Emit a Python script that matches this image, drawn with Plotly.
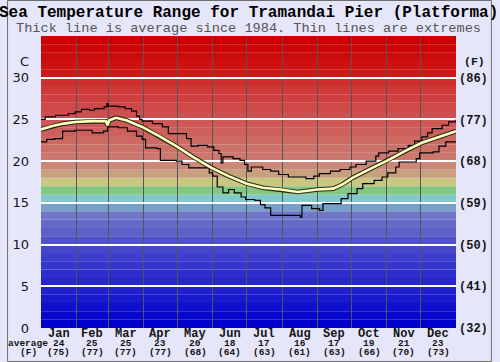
import plotly.graph_objects as go

# ---------------- data ----------------
months = ["Jan", "Feb", "Mar", "Apr", "May", "Jun", "Jul", "Aug", "Sep", "Oct", "Nov", "Dec"]
month_days = [31, 28, 31, 30, 31, 30, 31, 31, 30, 31, 30, 31]
avg_c_labels = ["24", "25", "25", "23", "20", "18", "17", "16", "17", "19", "21", "23"]
avg_f_labels = ["(75)", "(77)", "(77)", "(77)", "(68)", "(64)", "(63)", "(61)", "(63)", "(66)", "(70)", "(73)"]

avg_day = [0, 10, 20, 30, 45, 57, 58.5, 60, 66, 75, 89, 104, 119, 135, 150, 165, 181, 195,
           211, 226, 243, 257, 265, 274, 290, 305, 320, 335, 350, 365]
avg_temp = [23.8, 24.2, 24.5, 24.7, 24.8, 24.8, 24.3, 24.9, 25.2, 24.9, 24.1, 23.0, 21.8, 20.4,
            19.2, 18.2, 17.3, 16.8, 16.6, 16.3, 16.6, 16.7, 17.2, 18.0, 19.1, 20.1, 21.2, 22.2,
            22.9, 23.6]

max_day = [0, 3.7, 12.8, 24, 30, 35.6, 42.7, 47, 55.5, 58, 59, 68, 74, 79.7, 84, 86.8, 89, 98,
           106.7, 112, 124, 128, 132, 138, 146.5, 152, 156.5, 158.5, 160, 169, 175, 179, 182,
           185, 195, 202, 209, 217.6, 233, 240, 244.7, 254.6, 263, 271.7, 277, 286, 294.5, 297,
           305.7, 314, 323, 328.6, 335, 340, 344, 352.8, 358.5, 365]
max_temp = [25.0, 25.3, 25.5, 25.7, 25.9, 26.2, 26.1, 26.3, 26.5, 26.9, 26.6, 26.5, 26.3, 26.0,
            25.4, 25.0, 24.8, 24.5, 24.1, 23.3, 23.3, 22.7, 21.8, 21.9, 21.7, 21.3, 20.9, 19.8,
            20.5, 20.3, 20.1, 19.6, 18.8, 19.3, 19.0, 18.8, 18.4, 18.1, 17.9, 18.2, 18.5, 18.8,
            19.0, 19.3, 19.6, 20.0, 20.6, 21.0, 21.2, 21.5, 21.9, 22.4, 22.9, 23.4, 23.9, 24.3,
            24.7, 25.0]

min_day = [0, 5, 12, 19, 30, 45, 55, 58.5, 68, 76, 84, 89, 92, 102, 105, 119, 124, 130, 148,
           151, 155, 160, 165, 170, 176, 180, 188, 193, 197, 202, 223, 228, 229.5, 238, 245,
           248, 262, 264, 270, 278, 283, 293, 300, 305, 312, 315, 325, 330, 333, 345, 350, 356,
           365]
min_temp = [22.3, 22.6, 22.7, 23.6, 23.7, 23.4, 23.6, 24.1, 24.0, 23.6, 23.0, 22.6, 21.6, 21.5,
            20.1, 20.0, 19.6, 19.2, 18.6, 18.2, 16.9, 16.2, 16.6, 16.2, 15.7, 15.4, 15.3, 14.8,
            14.4, 13.5, 13.5, 13.3, 14.7, 14.3, 14.1, 14.9, 14.9, 15.5, 16.1, 16.7, 17.3, 17.7,
            18.1, 18.6, 19.3, 19.9, 19.9, 20.3, 21.0, 21.1, 21.8, 22.3, 22.3]

c_ticks = [0, 5, 10, 15, 20, 25, 30]
f_ticks = ["(32)", "(41)", "(50)", "(59)", "(68)", "(77)", "(86)"]

# colour of each 1-degree band from 0 to 35 C
band_colors = [
    "rgb(0,0,204)", "rgb(8,8,204)", "rgb(16,16,204)", "rgb(24,24,204)", "rgb(32,32,204)",
    "rgb(38,38,204)", "rgb(46,46,204)", "rgb(54,54,204)", "rgb(62,62,204)", "rgb(70,70,204)",
    "rgb(82,82,200)", "rgb(92,96,200)", "rgb(102,106,200)", "rgb(112,118,200)", "rgb(120,160,200)",
    "rgb(130,202,202)", "rgb(130,200,130)", "rgb(200,200,130)", "rgb(200,160,125)", "rgb(205,135,120)",
    "rgb(205,120,110)", "rgb(205,112,104)", "rgb(205,104,98)", "rgb(205,96,92)", "rgb(205,88,86)",
    "rgb(205,80,80)", "rgb(206,72,72)", "rgb(206,64,64)", "rgb(207,56,56)", "rgb(207,46,46)",
    "rgb(206,24,24)", "rgb(205,18,18)", "rgb(204,12,12)", "rgb(203,6,6)", "rgb(202,0,0)",
]

# ---------------- derived ----------------
bounds = []
acc = 0
for d in month_days:
    acc += d
    bounds.append(acc)
starts = [b - d for b, d in zip(bounds, month_days)]
centers = [s + d / 2 for s, d in zip(starts, month_days)]

W, H = 500, 362
ML, MR, MT, MB = 35, 37, 36, 34

fig = go.Figure()

fig.add_trace(go.Scatter(x=max_day, y=max_temp, mode="lines", line=dict(color="black", width=1.2, shape="hv"),
                         hoverinfo="skip", showlegend=False))
fig.add_trace(go.Scatter(x=min_day, y=min_temp, mode="lines", line=dict(color="black", width=1.2, shape="hv"),
                         hoverinfo="skip", showlegend=False))
fig.add_trace(go.Scatter(x=avg_day, y=avg_temp, mode="lines", line=dict(color="rgb(40,40,25)", width=4.6),
                         hoverinfo="skip", showlegend=False))
fig.add_trace(go.Scatter(x=avg_day, y=avg_temp, mode="lines", line=dict(color="rgb(255,255,190)", width=2.6),
                         hoverinfo="skip", showlegend=False))
# invisible trace to activate right axis
fig.add_trace(go.Scatter(x=[0], y=[0], yaxis="y2", mode="markers", marker=dict(opacity=0),
                         hoverinfo="skip", showlegend=False))

shapes = []
for i, col in enumerate(band_colors):
    shapes.append(dict(type="rect", xref="paper", yref="y", x0=0, x1=1, y0=i, y1=i + 1,
                       fillcolor=col, line=dict(width=0), layer="below"))
pw = W - ML - MR
ph = H - MT - MB
shapes.append(dict(type="rect", xref="paper", yref="paper",
                   x0=(-ML + 0.5) / pw, x1=1 + (MR - 0.5) / pw,
                   y0=(-MB + 0.5) / ph, y1=1 + (MT - 0.5) / ph,
                   line=dict(color="rgb(110,110,110)", width=1), fillcolor="rgba(0,0,0,0)", layer="below"))

mono = "Liberation Mono, Courier New, monospace"
ink = "rgb(20,20,20)"
ann = []
ann.append(dict(text="<b>Sea Temperature Range for Tramandai Pier (Platforma)</b>", xref="paper", yref="paper",
                x=0.5, y=1, yshift=23.5, xanchor="center", yanchor="middle", showarrow=False,
                font=dict(family=mono, size=16, color="black")))
ann.append(dict(text="Thick line is average since 1984. Thin lines are extremes", xref="paper", yref="paper",
                x=0.5, y=1, yshift=8, xanchor="center", yanchor="middle", showarrow=False,
                font=dict(family=mono, size=13.6, color="rgb(85,85,85)")))
ann.append(dict(text="C", xref="paper", yref="y", x=0, xshift=-17, y=32, xanchor="center", yanchor="middle",
                showarrow=False, font=dict(family="DejaVu Sans", size=13, color=ink)))
ann.append(dict(text="<b>(F)</b>", xref="paper", yref="y", x=1, xshift=18.5, y=32, xanchor="center",
                yanchor="middle", showarrow=False, font=dict(family=mono, size=11.5, color=ink)))
for m, c, a, f in zip(months, centers, avg_c_labels, avg_f_labels):
    ann.append(dict(text="<b>%s</b>" % m, x=c, xref="x", yref="paper", y=0, yshift=-6.2, xanchor="center",
                    yanchor="middle", showarrow=False, font=dict(family=mono, size=12, color=ink)))
    ann.append(dict(text="<b>%s</b>" % a, x=c, xref="x", yref="paper", y=0, yshift=-15.5, xanchor="center",
                    yanchor="middle", showarrow=False, font=dict(family=mono, size=9.5, color=ink)))
    ann.append(dict(text="<b>%s</b>" % f, x=c, xref="x", yref="paper", y=0, yshift=-24.5, xanchor="center",
                    yanchor="middle", showarrow=False, font=dict(family=mono, size=9.5, color=ink)))
ann.append(dict(text="<b>average</b>", xref="paper", yref="paper", x=0, xshift=-13, y=0, yshift=-15.5,
                xanchor="center", yanchor="middle", showarrow=False,
                font=dict(family=mono, size=9.5, color=ink)))
ann.append(dict(text="<b>(F)</b>", xref="paper", yref="paper", x=0, xshift=-13, y=0, yshift=-24.5,
                xanchor="center", yanchor="middle", showarrow=False,
                font=dict(family=mono, size=9.5, color=ink)))

fig.update_layout(
    width=W, height=H,
    margin=dict(l=ML, r=MR, t=MT, b=MB, pad=0),
    paper_bgcolor="rgb(230,230,250)",
    plot_bgcolor="rgb(230,230,250)",
    showlegend=False,
    shapes=shapes,
    annotations=ann,
    xaxis=dict(range=[0, 365], tickvals=bounds[:-1], showticklabels=False, ticks="",
               showgrid=True, gridcolor="rgb(85,85,85)", gridwidth=1, zeroline=False, showline=False,
               fixedrange=True),
    yaxis=dict(range=[0, 35], tickvals=c_ticks, ticktext=[str(v) for v in c_ticks], ticks="",
               ticklabelstandoff=11, showgrid=True, gridcolor="white", gridwidth=1.6, zeroline=False,
               showline=False, tickfont=dict(family="DejaVu Sans", size=13, color=ink),
               fixedrange=True),
    yaxis2=dict(range=[0, 35], overlaying="y", side="right", tickvals=c_ticks,
                ticktext=["<b>%s</b>" % t for t in f_ticks], ticks="",
                ticklabelstandoff=2, showgrid=False, zeroline=False, showline=False,
                tickfont=dict(family=mono, size=12, color=ink), fixedrange=True),
)

fig.write_html("out.html", config={"displayModeBar": False},
               post_script="document.body.style.margin='0';document.body.style.overflow='hidden';")
